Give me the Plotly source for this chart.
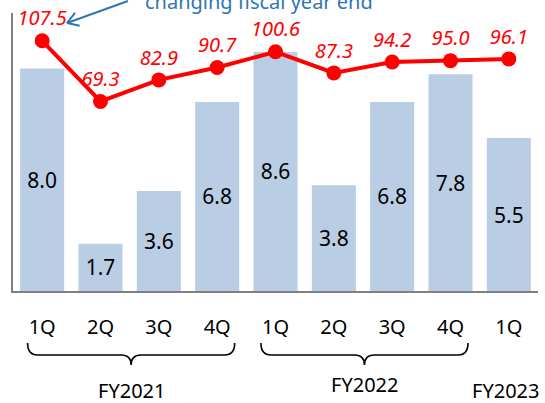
import math
import plotly.graph_objects as go

# ---- data ----
quarters = ["1Q", "2Q", "3Q", "4Q", "1Q", "2Q", "3Q", "4Q", "1Q"]
bar_values = [8.0, 1.7, 3.6, 6.8, 8.6, 3.8, 6.8, 7.8, 5.5]
line_values = [107.5, 69.3, 82.9, 90.7, 100.6, 87.3, 94.2, 95.0, 96.1]
fiscal_years = ["FY2021", "FY2022", "FY2023"]
fy_first = [0, 4, 8]
fy_last = [3, 7, 8]
note_text = "changing fiscal year end"

# ---- geometry / style ----
W, H = 545, 403
ML, MR, MT, MB = 13, 7, 13, 112
PW, PH = W - ML - MR, H - MT - MB
N = len(quarters)
FONT = "Noto Sans"
BAR_COLOR = "#B9CDE5"
RED = "#FF0000"
BLUE = "#2E75B6"


def xd_to_px(xd):
    return ML + (xd + 0.5) * PW / N


def px_to_paper(px, py):
    return (px - ML) / PW, (MT + PH - py) / PH


x_idx = list(range(N))

fig = go.Figure()
fig.add_trace(go.Bar(
    x=x_idx, y=bar_values,
    marker=dict(color=BAR_COLOR, line=dict(width=0)),
    text=[f"{v:.1f}" for v in bar_values],
    textposition="inside", insidetextanchor="middle",
    textfont=dict(family=FONT, size=21, color="#000000"),
    cliponaxis=False, showlegend=False,
))
fig.add_trace(go.Scatter(
    x=x_idx, y=line_values, yaxis="y2",
    mode="lines+markers+text",
    line=dict(color=RED, width=4),
    marker=dict(color=RED, size=15),
    text=[f"{v:.1f}" for v in line_values],
    textposition="top center",
    textfont=dict(family=FONT, size=20, color=RED, style="italic"),
    cliponaxis=False, showlegend=False,
))

shapes = []
annotations = []

# braces + fiscal year labels
fy_label_y = [390, 384, 390]
for name, a, b, ly in zip(fiscal_years, fy_first, fy_last, fy_label_y):
    xc_d = (a + b) / 2 - (0.06 if b == a else 0)
    if b > a:
        x0 = xd_to_px(a - 0.25)
        x1 = xd_to_px(b + 0.3)
        xc = (x0 + x1) / 2
        yt, yl, yb = 343, 355, 365
        r = 10
        pts = [(x0, yt), (x0, yl), (x0 + r, yl), (xc - r, yl), (xc, yl), (xc, yb),
               (xc, yl), (xc + r, yl), (x1 - r, yl), (x1, yl), (x1, yt)]
        p = [px_to_paper(*q) for q in pts]
        path = (f"M {p[0][0]},{p[0][1]} Q {p[1][0]},{p[1][1]} {p[2][0]},{p[2][1]} "
                f"L {p[3][0]},{p[3][1]} Q {p[4][0]},{p[4][1]} {p[5][0]},{p[5][1]} "
                f"Q {p[6][0]},{p[6][1]} {p[7][0]},{p[7][1]} "
                f"L {p[8][0]},{p[8][1]} Q {p[9][0]},{p[9][1]} {p[10][0]},{p[10][1]}")
        shapes.append(dict(type="path", xref="paper", yref="paper", path=path,
                           line=dict(color="#000000", width=1.6)))
        xc_d = (xc - ML) * N / PW - 0.5
    annotations.append(dict(
        x=xc_d, xref="x", y=px_to_paper(0, ly)[1], yref="paper",
        text=name, showarrow=False, xanchor="center", yanchor="middle",
        font=dict(family=FONT, size=20, color="#000000"),
    ))

# arrow (open V head) to the first label
tail = (128, 1)
head = (67, 23)
dx, dy = tail[0] - head[0], tail[1] - head[1]
L = math.hypot(dx, dy)
ux, uy = dx / L, dy / L
shapes.append(dict(type="line", xref="paper", yref="paper",
                   x0=px_to_paper(*tail)[0], y0=px_to_paper(*tail)[1],
                   x1=px_to_paper(*head)[0], y1=px_to_paper(*head)[1],
                   line=dict(color=BLUE, width=2)))
for ang in (math.radians(32), math.radians(-32)):
    vx = ux * math.cos(ang) - uy * math.sin(ang)
    vy = ux * math.sin(ang) + uy * math.cos(ang)
    end = (head[0] + 13 * vx, head[1] + 13 * vy)
    shapes.append(dict(type="line", xref="paper", yref="paper",
                       x0=px_to_paper(*head)[0], y0=px_to_paper(*head)[1],
                       x1=px_to_paper(*end)[0], y1=px_to_paper(*end)[1],
                       line=dict(color=BLUE, width=2)))

annotations.append(dict(
    x=px_to_paper(143, 0)[0], xref="paper", y=px_to_paper(0, 1)[1], yref="paper",
    text=note_text, showarrow=False, xanchor="left", yanchor="middle",
    font=dict(family=FONT, size=20, color=BLUE),
))

fig.update_layout(
    width=W, height=H,
    margin=dict(l=ML, r=MR, t=MT, b=MB, pad=0),
    paper_bgcolor="white", plot_bgcolor="white",
    bargap=0.245,
    showlegend=False,
    xaxis=dict(
        range=[-0.5, N - 0.5], tickmode="array", tickvals=x_idx, ticktext=quarters,
        showgrid=False, zeroline=False, showline=True, linecolor="#808080", linewidth=2,
        ticks="outside", ticklen=17, tickcolor="rgba(0,0,0,0)",
        tickfont=dict(family=FONT, size=20, color="#000000"),
        fixedrange=True,
    ),
    yaxis=dict(
        range=[0, 10], showgrid=False, zeroline=False, showticklabels=False,
        showline=True, linecolor="#808080", linewidth=2, ticks="",
    ),
    yaxis2=dict(
        range=[-50, 125], overlaying="y", side="right", visible=False,
        showgrid=False, zeroline=False,
    ),
    shapes=shapes,
    annotations=annotations,
)

fig.write_html("out.html")
